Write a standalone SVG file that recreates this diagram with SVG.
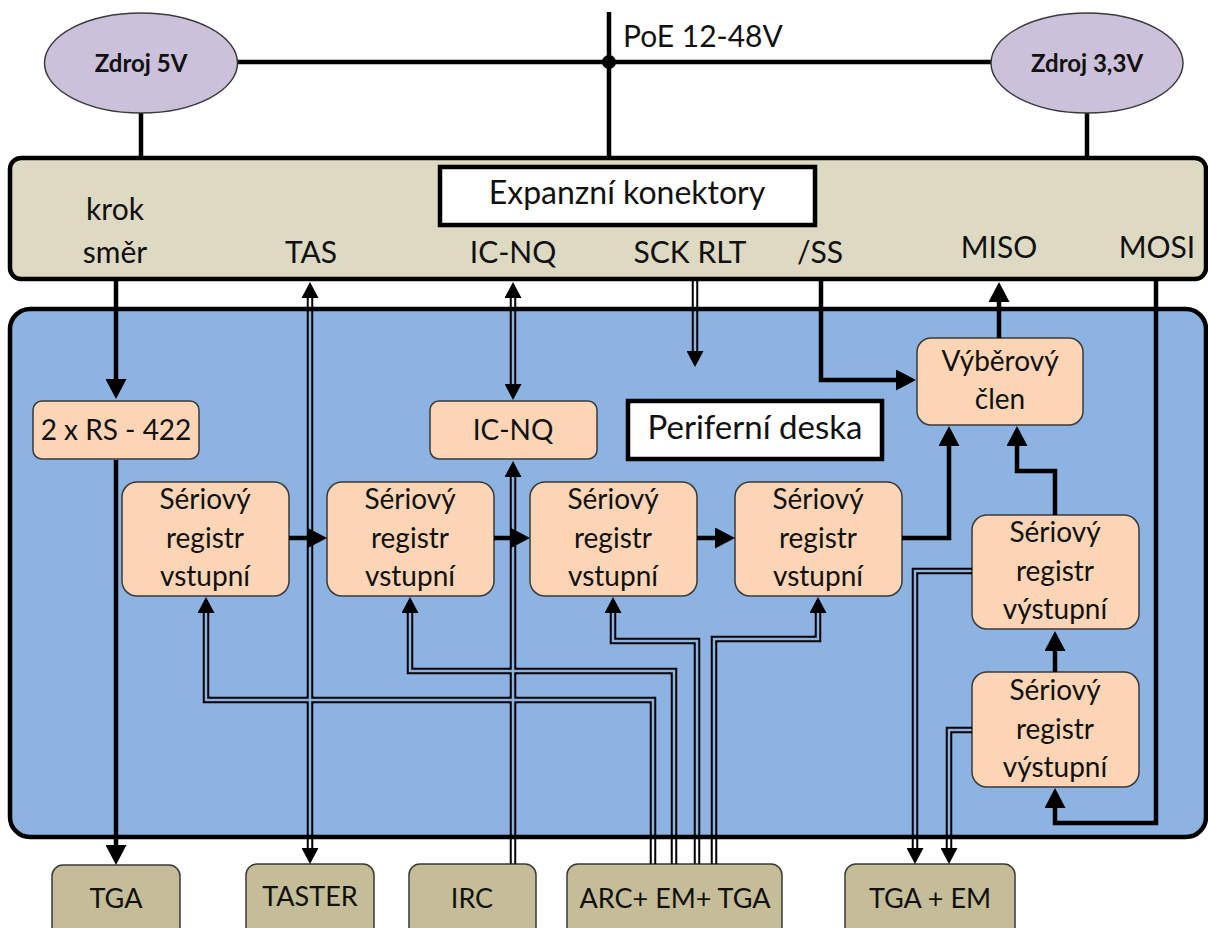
<svg xmlns="http://www.w3.org/2000/svg" xmlns:xlink="http://www.w3.org/1999/xlink" width="1208" height="928" viewBox="0 0 1208 928">
  <style>
    text { font-family: Lato, "Open Sans", "Liberation Sans", sans-serif; fill: #111; text-anchor: middle; }
    .src ellipse { fill: #CCC1DA; stroke: #3a3a3a; stroke-width: 1.5; }
    .src text { font-weight: bold; font-size: 24px; }
    .blk rect { fill: #FBD5B5; stroke: #3a3a3a; stroke-width: 1.5; }
    .blk text { font-size: 28px; }
    .ext rect { fill: #C4BD97; stroke: #3a3a3a; stroke-width: 1.5; }
    .ext text { font-size: 27px; }
    .title rect { fill: #fff; stroke: #000; stroke-width: 4.5; }
    .pin { font-size: 30px; }
    .bus { fill: none; stroke: #000; stroke-width: 4.5; }
    .thick { fill: none; stroke: #000; stroke-width: 4.5; marker-end: url(#ah); }
    .tip { fill: none; stroke: none; marker-end: url(#ah2); }
  </style>
  <defs>
    <marker id="ah" markerUnits="userSpaceOnUse" markerWidth="20" markerHeight="21" refX="6" refY="10.5" orient="auto">
      <path d="M0,0 L20,10.5 L0,21 z" fill="#000"/>
    </marker>
    <marker id="ah2" markerUnits="userSpaceOnUse" markerWidth="16" markerHeight="17" refX="16" refY="8.5" orient="auto">
      <path d="M0,0 L16,8.5 L0,17 z" fill="#000"/>
    </marker>
    <!-- hollow (double) signal lines -->
    <path id="w-tas" d="M310,290 V856"/>
    <path id="w-icnq" d="M513,290 V392"/>
    <path id="w-irc" d="M513,864 V469"/>
    <path id="w-sck" d="M695,280 V359"/>
    <path id="w-f1" d="M653,864 V700 H206 V605"/>
    <path id="w-f2" d="M674,864 V671 H410 V605"/>
    <path id="w-f3" d="M697,864 V641 H613 V605"/>
    <path id="w-f4" d="M714,864 V639 H818 V605"/>
    <path id="w-e1" d="M972,571 H915 V856"/>
    <path id="w-e2" d="M972,730 H949 V856"/>
    <mask id="hollow" maskUnits="userSpaceOnUse" x="0" y="0" width="1208" height="928">
      <g fill="none" stroke="#fff" stroke-width="7">
        <use xlink:href="#w-tas"/><use xlink:href="#w-icnq"/><use xlink:href="#w-irc"/><use xlink:href="#w-sck"/>
        <use xlink:href="#w-f1"/><use xlink:href="#w-f2"/><use xlink:href="#w-f3"/><use xlink:href="#w-f4"/>
        <use xlink:href="#w-e1"/><use xlink:href="#w-e2"/>
      </g>
      <g fill="none" stroke="#000" stroke-width="2.5">
        <use xlink:href="#w-tas"/><use xlink:href="#w-icnq"/><use xlink:href="#w-irc"/><use xlink:href="#w-sck"/>
        <use xlink:href="#w-f1"/><use xlink:href="#w-f2"/><use xlink:href="#w-f3"/><use xlink:href="#w-f4"/>
        <use xlink:href="#w-e1"/><use xlink:href="#w-e2"/>
      </g>
    </mask>
  </defs>

  <rect width="1208" height="928" fill="#fff"/>

  <!-- power distribution -->
  <g id="power">
    <path class="bus" d="M609,12 V158"/>
    <path class="bus" d="M237,62 H991"/>
    <path class="bus" d="M141,112 V158"/>
    <path class="bus" d="M1087,112 V158"/>
    <circle cx="609" cy="62" r="7" fill="#000"/>
    <text x="623" y="47" style="text-anchor:start;font-size:30px">PoE 12-48V</text>
  </g>

  <g id="zdroj5" class="src">
    <ellipse cx="141" cy="63" rx="96.5" ry="50"/>
    <text x="141" y="72">Zdroj 5V</text>
  </g>
  <g id="zdroj33" class="src">
    <ellipse cx="1087" cy="63" rx="96" ry="50"/>
    <text x="1087" y="72">Zdroj 3,3V</text>
  </g>

  <!-- expansion connector strip -->
  <g id="konektory">
    <rect x="10" y="158" width="1196" height="121" rx="11" fill="#DDD9C3" stroke="#000" stroke-width="4.5"/>
    <g class="title">
      <rect x="440" y="167" width="375" height="58"/>
      <text x="627" y="204" style="font-size:32px">Expanzní konektory</text>
    </g>
    <text class="pin" x="115" y="220">krok</text>
    <text class="pin" x="115" y="263">směr</text>
    <text class="pin" x="311" y="263">TAS</text>
    <text class="pin" x="513" y="263">IC-NQ</text>
    <text class="pin" x="690" y="263">SCK RLT</text>
    <text class="pin" x="820" y="263">/SS</text>
    <text class="pin" x="999" y="258">MISO</text>
    <text class="pin" x="1157" y="258">MOSI</text>
  </g>

  <!-- peripheral board -->
  <g id="deska">
    <rect x="10" y="309" width="1196" height="528" rx="20" fill="#8DB3E2" stroke="#000" stroke-width="4.5"/>
    <g class="title">
      <rect x="628" y="401" width="254" height="58"/>
      <text x="755" y="439" style="font-size:33px">Periferní deska</text>
    </g>
  </g>

  <g id="rs422" class="blk">
    <rect x="33" y="401" width="166" height="58" rx="9"/>
    <text x="116" y="440">2 x RS - 422</text>
  </g>
  <g id="icnq" class="blk">
    <rect x="430" y="401" width="167" height="58" rx="9"/>
    <text x="513" y="440">IC-NQ</text>
  </g>
  <g id="vyber" class="blk">
    <rect x="917" y="338" width="166" height="87" rx="14"/>
    <text x="1000" y="371">Výběrový</text>
    <text x="1000" y="409">člen</text>
  </g>
  <g id="vstup1" class="blk">
    <rect x="122" y="482" width="167" height="114" rx="15"/>
    <text x="205" y="509">Sériový</text>
    <text x="205" y="548">registr</text>
    <text x="205" y="586">vstupní</text>
  </g>
  <g id="vstup2" class="blk">
    <rect x="327" y="482" width="167" height="114" rx="15"/>
    <text x="410" y="509">Sériový</text>
    <text x="410" y="548">registr</text>
    <text x="410" y="586">vstupní</text>
  </g>
  <g id="vstup3" class="blk">
    <rect x="530" y="482" width="167" height="114" rx="15"/>
    <text x="613" y="509">Sériový</text>
    <text x="613" y="548">registr</text>
    <text x="613" y="586">vstupní</text>
  </g>
  <g id="vstup4" class="blk">
    <rect x="735" y="482" width="167" height="114" rx="15"/>
    <text x="818" y="509">Sériový</text>
    <text x="818" y="548">registr</text>
    <text x="818" y="586">vstupní</text>
  </g>
  <g id="vystup1" class="blk">
    <rect x="972" y="515" width="167" height="114" rx="15"/>
    <text x="1055" y="542">Sériový</text>
    <text x="1055" y="581">registr</text>
    <text x="1055" y="619">výstupní</text>
  </g>
  <g id="vystup2" class="blk">
    <rect x="972" y="672" width="167" height="115" rx="15"/>
    <text x="1055" y="700">Sériový</text>
    <text x="1055" y="739">registr</text>
    <text x="1055" y="777">výstupní</text>
  </g>

  <!-- external devices -->
  <g id="tga" class="ext">
    <rect x="52" y="865" width="128" height="80" rx="11"/>
    <text x="116" y="908">TGA</text>
  </g>
  <g id="taster" class="ext">
    <rect x="246" y="864" width="128" height="80" rx="11"/>
    <text x="310" y="906">TASTER</text>
  </g>
  <g id="irc" class="ext">
    <rect x="409" y="864" width="127" height="80" rx="11"/>
    <text x="472" y="908">IRC</text>
  </g>
  <g id="arc" class="ext">
    <rect x="567" y="864" width="215" height="80" rx="11"/>
    <text x="675" y="908">ARC+ EM+ TGA</text>
  </g>
  <g id="tgaem" class="ext">
    <rect x="845" y="864" width="170" height="80" rx="11"/>
    <text x="930" y="908">TGA + EM</text>
  </g>

  <!-- connectors -->
  <g id="connectors">
    <g mask="url(#hollow)" fill="none" stroke="#000" stroke-width="7">
      <use xlink:href="#w-tas"/><use xlink:href="#w-icnq"/><use xlink:href="#w-irc"/><use xlink:href="#w-sck"/>
      <use xlink:href="#w-f1"/><use xlink:href="#w-f2"/><use xlink:href="#w-f3"/><use xlink:href="#w-f4"/>
      <use xlink:href="#w-e1"/><use xlink:href="#w-e2"/>
    </g>
    <path class="tip" d="M310,300 L310,282"/>
    <path class="tip" d="M310,840 L310,864"/>
    <path class="tip" d="M513,300 L513,282"/>
    <path class="tip" d="M513,380 L513,400"/>
    <path class="tip" d="M513,480 L513,461"/>
    <path class="tip" d="M695,350 L695,367"/>
    <path class="tip" d="M206,620 L206,597"/>
    <path class="tip" d="M410,620 L410,597"/>
    <path class="tip" d="M613,620 L613,597"/>
    <path class="tip" d="M818,620 L818,597"/>
    <path class="tip" d="M915,840 L915,864"/>
    <path class="tip" d="M949,840 L949,864"/>

    <path class="thick" d="M116,281 V385"/>
    <path class="thick" d="M116,460 V851"/>
    <path class="thick" d="M289,538 H313"/>
    <path class="thick" d="M494,538 H516"/>
    <path class="thick" d="M697,538 H721"/>
    <path class="thick" d="M902,538 H949 V440"/>
    <path class="thick" d="M821,281 V380 H902"/>
    <path class="thick" d="M999,338 V296"/>
    <path class="thick" d="M1156,281 V823 H1055 V802"/>
    <path class="thick" d="M1055,672 V645"/>
    <path class="thick" d="M1055,515 V471 H1017 V440"/>
  </g>
</svg>
